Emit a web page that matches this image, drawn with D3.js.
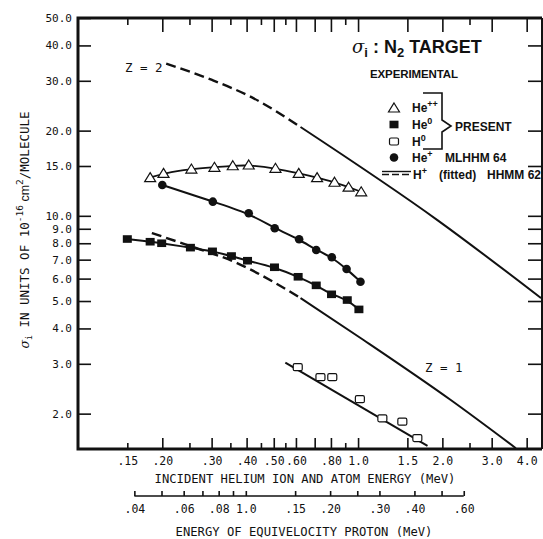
<!DOCTYPE html>
<html>
<head>
<meta charset="utf-8">
<script src="https://cdn.jsdelivr.net/npm/d3@7"></script>
<style>
  html, body { margin: 0; padding: 0; background: #fff; }
  svg { display: block; }
</style>
</head>
<body>
<svg id="chart" width="543" height="539"></svg>
<script>
// ---- Measured ionization cross sections, N2 target (units of 1e-16 cm^2/molecule) ----
// He++ (present work)
const heppEnergy = [0.181, 0.202, 0.254, 0.307, 0.357, 0.407, 0.507, 0.614, 0.714, 0.824, 0.925, 1.026];
const heppSigma  = [13.64, 14.13, 14.63, 14.84, 15.03, 15.12, 14.72, 14.13, 13.64, 13.14, 12.62, 12.16];
// He0 (present work)
const he0Energy = [0.150, 0.181, 0.199, 0.252, 0.302, 0.353, 0.403, 0.503, 0.611, 0.709, 0.804, 0.915, 1.007];
const he0Sigma  = [8.28, 8.10, 8.00, 7.72, 7.49, 7.21, 6.94, 6.58, 6.09, 5.68, 5.28, 5.04, 4.67];
// H0 (present work)
const h0Energy = [0.609, 0.734, 0.809, 1.015, 1.221, 1.439, 1.628];
const h0Sigma  = [2.92, 2.69, 2.69, 2.25, 1.925, 1.873, 1.64];
const h0FitEnergy = [0.55, 1.77];
const h0FitSigma  = [3.03, 1.54];
// He+ (MLHHM 64)
const hepEnergy = [0.200, 0.303, 0.407, 0.504, 0.616, 0.709, 0.806, 0.910, 1.020];
const hepSigma  = [12.85, 11.22, 10.21, 9.04, 8.26, 7.57, 7.14, 6.49, 5.85];
// H+ fitted curves (HHMM 62) scaled for Z = 2 and Z = 1
const z2DashEnergy  = [0.2065, 0.301, 0.418, 0.623];
const z2DashSigma   = [34.5, 30.2, 26.2, 20.6];
const z2SolidEnergy = [0.623, 1.92, 4.5];
const z2SolidSigma  = [20.6, 9.66, 5.12];
const z1DashEnergy  = [0.1835, 0.2516, 0.3697, 0.4985, 0.623];
const z1DashSigma   = [8.69, 7.82, 6.81, 5.84, 5.12];
const z1SolidEnergy = [0.623, 1.046, 2.143, 3.66];
const z1SolidSigma  = [5.12, 3.64, 2.234, 1.51];

// ---- Axis ticks ----
const yTickValues = [50, 40, 30, 20, 15, 10, 9, 8, 7, 6, 5, 4, 3, 2];
const xMajorTicks = [0.2, 0.3, 0.4, 0.5, 0.6, 0.7, 0.8, 1.0, 1.5, 2.0, 3.0, 4.0];
const xMinorTicks = [0.15, 0.25, 0.35, 0.45, 0.55, 0.9, 2.5];
const xLabelValues = [0.15, 0.2, 0.3, 0.4, 0.5, 0.6, 0.8, 1.0, 1.5, 2.0, 3.0, 4.0];
const xLabelText   = [".15", ".20", ".30", ".40", ".50", ".60", ".80", "1.0", "1.5", "2.0", "3.0", "4.0"];
const protonTickValues = [0.04, 0.05, 0.06, 0.07, 0.08, 0.09, 0.10, 0.15, 0.20, 0.25, 0.30, 0.40, 0.50, 0.60];
const protonLabelValues = [0.04, 0.06, 0.08, 0.10, 0.15, 0.20, 0.30, 0.40, 0.60];
const protonLabelText   = [".04", ".06", ".08", "1.0", ".15", ".20", ".30", ".40", ".60"];
const heToProtonMass = 3.9737;

const mono = "'DejaVu Sans Mono', monospace";
const sans = "'Liberation Sans', Arial, sans-serif";
const ink = "#111";

const svg = d3.select("#chart");
const plotLeft = 78, plotRight = 541, plotTop = 18, plotBottom = 449;

const x = d3.scaleLog().domain([0.1, 4.5]).range([plotLeft, plotRight]);
const y = d3.scaleLog().domain([1.5, 50]).range([plotBottom, plotTop]);
const xp = d3.scaleLog().domain([0.1 / heToProtonMass, 4.5 / heToProtonMass]).range([plotLeft, plotRight]);

function styleAxis(g, size) {
  g.select(".domain").remove();
  g.selectAll(".tick line").attr("stroke", ink).attr("stroke-width", 1.6);
  g.selectAll(".tick text").attr("fill", ink).attr("font-family", mono).attr("font-size", size || 12);
}

// left axis with labels
svg.append("g").attr("transform", `translate(${plotLeft},0)`)
  .call(d3.axisLeft(y).tickValues(yTickValues).tickFormat(d3.format(".1f")).tickSize(-13).tickPadding(6))
  .call(g => styleAxis(g, 11));
// right axis
svg.append("g").attr("transform", `translate(${plotRight},0)`)
  .call(d3.axisRight(y).tickValues(yTickValues.slice(1)).tickFormat("").tickSize(-13))
  .call(g => styleAxis(g));

// bottom axis
const labelMap = new Map(xLabelValues.map((v, i) => [v, xLabelText[i]]));
svg.append("g").attr("transform", `translate(0,${plotBottom})`)
  .call(d3.axisBottom(x).tickValues(xMajorTicks).tickFormat(d => labelMap.get(d) || "").tickSize(-11).tickPadding(8))
  .call(g => styleAxis(g, 11.5));
svg.append("g").attr("transform", `translate(0,${plotBottom})`)
  .call(d3.axisBottom(x).tickValues(xMinorTicks).tickFormat(d => labelMap.get(d) || "").tickSize(-6).tickPadding(8))
  .call(g => styleAxis(g, 11.5));
// top axis
svg.append("g").attr("transform", `translate(0,${plotTop})`)
  .call(d3.axisTop(x).tickValues(xMajorTicks).tickFormat("").tickSize(-14))
  .call(g => styleAxis(g));
svg.append("g").attr("transform", `translate(0,${plotTop})`)
  .call(d3.axisTop(x).tickValues(xMinorTicks).tickFormat("").tickSize(-7))
  .call(g => styleAxis(g));

// frame
svg.append("path")
  .attr("d", `M${plotRight + 1},${plotTop}H${plotLeft}V${plotBottom}H${plotRight + 1}`)
  .attr("fill", "none").attr("stroke", ink).attr("stroke-width", 3);
svg.append("line").attr("x1", plotRight + 1).attr("x2", plotRight + 1).attr("y1", plotTop).attr("y2", plotBottom)
  .attr("stroke", ink).attr("stroke-width", 2);

// x-axis title
svg.append("text").attr("x", 305).attr("y", 483).attr("text-anchor", "middle")
  .attr("font-family", mono).attr("font-size", 12.2).attr("fill", ink)
  .text("INCIDENT HELIUM ION AND ATOM ENERGY (MeV)");

// equivelocity proton energy scale
const protonY = 496;
const pLabelMap = new Map(protonLabelValues.map((v, i) => [v, protonLabelText[i]]));
svg.append("g").attr("transform", `translate(0,${protonY})`)
  .call(d3.axisBottom(xp).tickValues(protonTickValues).tickFormat(d => pLabelMap.get(d) || "").tickSize(-5).tickPadding(9))
  .call(g => styleAxis(g, 11.5));
svg.append("line")
  .attr("x1", xp(protonTickValues[0])).attr("x2", xp(protonTickValues[protonTickValues.length - 1]))
  .attr("y1", protonY).attr("y2", protonY).attr("stroke", ink).attr("stroke-width", 1.6);
svg.append("text").attr("x", 304).attr("y", 536).attr("text-anchor", "middle")
  .attr("font-family", mono).attr("font-size", 12.2).attr("fill", ink)
  .text("ENERGY OF EQUIVELOCITY PROTON (MeV)");

// y-axis title (rotated)
const yt = svg.append("text").attr("transform", "translate(29,230) rotate(-90)")
  .attr("text-anchor", "middle").attr("font-family", mono).attr("font-size", 12.5).attr("fill", ink);
yt.append("tspan").attr("font-family", "'DejaVu Serif', serif").attr("font-style", "italic").text("σ");
yt.append("tspan").attr("font-size", 8).attr("dy", 3).text("i");
yt.append("tspan").attr("dy", -3).text(" IN UNITS OF 10");
yt.append("tspan").attr("font-size", 9.5).attr("dy", -6).text("-16");
yt.append("tspan").attr("dy", 6).attr("font-family", sans).text("  cm");
yt.append("tspan").attr("font-size", 9.5).attr("dy", -6).text("2");
yt.append("tspan").attr("dy", 6).text("/MOLECULE");

// ---- curves ----
const line = d3.line().x(d => x(d[0])).y(d => y(d[1]));
const zip = (a, b) => a.map((v, i) => [v, b[i]]);

function drawCurve(data, curve, dashed, width) {
  svg.append("path").datum(data)
    .attr("d", line.curve(curve)(data))
    .attr("fill", "none").attr("stroke", ink).attr("stroke-width", width || 2)
    .attr("stroke-dasharray", dashed ? "10,5" : null)
    .attr("stroke-linecap", "butt");
}

drawCurve(zip(z2DashEnergy, z2DashSigma), d3.curveMonotoneX, true, 2.4);
drawCurve(zip(z2SolidEnergy, z2SolidSigma), d3.curveMonotoneX, false, 2);
drawCurve(zip(z1DashEnergy, z1DashSigma), d3.curveMonotoneX, true, 2.4);
drawCurve(zip(z1SolidEnergy, z1SolidSigma), d3.curveMonotoneX, false, 2);
drawCurve(zip(heppEnergy, heppSigma), d3.curveBasis, false, 1.8);
drawCurve(zip(hepEnergy, hepSigma), d3.curveBasis, false, 2);
drawCurve(zip(he0Energy, he0Sigma), d3.curveBasis, false, 2);
drawCurve(zip(h0FitEnergy, h0FitSigma), d3.curveLinear, false, 2);

// ---- markers ----
function triangle(g, cx, cy) {
  g.append("path").attr("d", `M${cx},${cy - 5}L${cx + 5.5},${cy + 4}L${cx - 5.5},${cy + 4}Z`)
    .attr("fill", "#fff").attr("stroke", ink).attr("stroke-width", 1.2);
}
function filledSquare(g, cx, cy) {
  g.append("rect").attr("x", cx - 4.5).attr("y", cy - 3.8).attr("width", 9).attr("height", 7.6).attr("fill", ink);
}
function openSquare(g, cx, cy) {
  g.append("rect").attr("x", cx - 4.5).attr("y", cy - 3.5).attr("width", 9).attr("height", 7).attr("rx", 1.5)
    .attr("fill", "#fff").attr("stroke", ink).attr("stroke-width", 1.2);
}
function dot(g, cx, cy) {
  g.append("circle").attr("cx", cx).attr("cy", cy).attr("r", 4.3).attr("fill", ink);
}

const marks = svg.append("g");
heppEnergy.forEach((e, i) => triangle(marks, x(e), y(heppSigma[i])));
he0Energy.forEach((e, i) => filledSquare(marks, x(e), y(he0Sigma[i])));
h0Energy.forEach((e, i) => openSquare(marks, x(e), y(h0Sigma[i])));
hepEnergy.forEach((e, i) => dot(marks, x(e), y(hepSigma[i])));

// curve labels
svg.append("text").attr("x", 125).attr("y", 72).attr("font-family", mono).attr("font-size", 12.5).attr("fill", ink).text("Z = 2");
svg.append("text").attr("x", 425).attr("y", 372).attr("font-family", mono).attr("font-size", 12.5).attr("fill", ink).text("Z = 1");

// ---- title & legend ----
const title = svg.append("text").attr("x", 352).attr("y", 53)
  .attr("font-family", sans).attr("font-weight", "bold").attr("font-size", 18).attr("fill", ink);
title.append("tspan").attr("font-family", "'DejaVu Serif', serif").attr("font-style", "italic").attr("font-weight", "normal").text("σ");
title.append("tspan").attr("font-size", 13).attr("dy", 4).text("i");
title.append("tspan").attr("dy", -4).text(" : N");
title.append("tspan").attr("font-size", 13).attr("dy", 4).text("2");
title.append("tspan").attr("dy", -4).text(" TARGET");

svg.append("text").attr("x", 370).attr("y", 78).attr("font-family", sans).attr("font-weight", "bold")
  .attr("font-size", 11.5).attr("fill", ink).attr("textLength", 88).text("EXPERIMENTAL");

const leg = svg.append("g").attr("font-family", sans).attr("font-weight", "bold").attr("font-size", 12).attr("fill", ink);
function legLabel(xp0, yb, base, sup) {
  const t = leg.append("text").attr("x", xp0).attr("y", yb);
  t.append("tspan").text(base);
  t.append("tspan").attr("font-size", 9).attr("dy", -5).text(sup);
  return t;
}
triangle(leg, 394, 108);
legLabel(412, 112, "He", "++");
filledSquare(leg, 394, 124.5);
legLabel(412, 128.5, "He", "0");
openSquare(leg, 394, 141.5);
legLabel(412, 145.5, "H", "0");
dot(leg, 394, 157.5);
legLabel(412, 162, "He", "+");
leg.append("text").attr("x", 445).attr("y", 162).text("MLHHM 64");
leg.append("line").attr("x1", 382).attr("x2", 411).attr("y1", 171.5).attr("y2", 171.5).attr("stroke", ink).attr("stroke-width", 1.4);
leg.append("line").attr("x1", 382).attr("x2", 411).attr("y1", 174.5).attr("y2", 174.5).attr("stroke", ink).attr("stroke-width", 1.4).attr("stroke-dasharray", "7,3");
legLabel(413, 179, "H", "+");
leg.append("text").attr("x", 439).attr("y", 179).text("(fitted)");
leg.append("text").attr("x", 487).attr("y", 179).text("HHMM 62");

// brace grouping the present-work entries
leg.append("path")
  .attr("d", "M423,93H442V120L451,126L442,132V149H423")
  .attr("fill", "none").attr("stroke", ink).attr("stroke-width", 1.6);
leg.append("text").attr("x", 455).attr("y", 130.5).text("PRESENT");
</script>
</body>
</html>
